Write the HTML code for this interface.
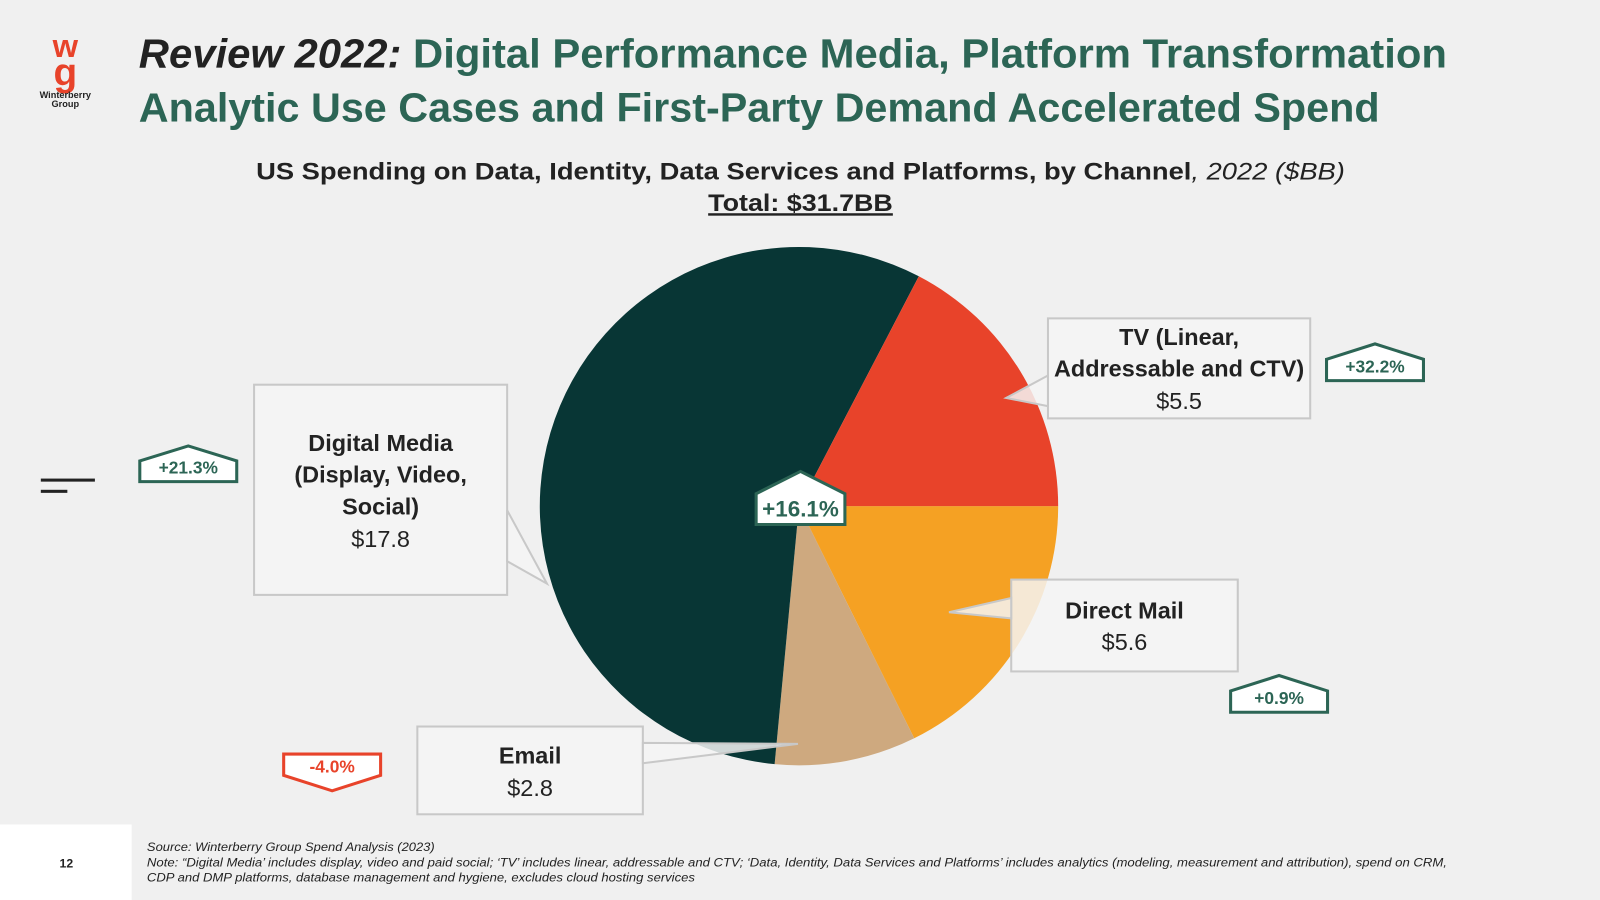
<!DOCTYPE html>
<html><head><meta charset="utf-8">
<style>
html,body{margin:0;padding:0;background:#f0f0f0;}
svg{display:block;font-family:"Liberation Sans",sans-serif;}
</style></head>
<body>
<svg id="chart" width="1600" height="900" viewBox="0 0 1568 882" xmlns="http://www.w3.org/2000/svg">
<rect x="0" y="0" width="1568" height="882" fill="#f0f0f0"/>
<g>
<text x="64" y="56" text-anchor="middle" font-size="32" font-weight="bold" fill="#e8432a">w</text>
<text x="64" y="84" text-anchor="middle" font-size="38" font-weight="bold" fill="#e8432a">g</text>
<text x="64" y="96" text-anchor="middle" font-size="9" font-weight="bold" fill="#222">Winterberry</text>
<text x="64" y="105" text-anchor="middle" font-size="9" font-weight="bold" fill="#222">Group</text>
</g>
<text x="136" y="66" font-size="40" font-weight="bold" fill="#2c6555" textLength="1282" lengthAdjust="spacingAndGlyphs"><tspan font-style="italic" fill="#222">Review 2022:</tspan> Digital Performance Media, Platform Transformation</text>
<text x="136" y="119" font-size="40" font-weight="bold" fill="#2c6555" textLength="1216" lengthAdjust="spacingAndGlyphs">Analytic Use Cases and First-Party Demand Accelerated Spend</text>
<text x="251" y="176" font-size="24" font-weight="bold" fill="#222" textLength="1067" lengthAdjust="spacingAndGlyphs">US Spending on Data, Identity, Data Services and Platforms, by Channel<tspan font-weight="normal" font-style="italic">, 2022 ($BB)</tspan></text>
<text x="694" y="207" font-size="24" font-weight="bold" fill="#222" text-decoration="underline" textLength="181" lengthAdjust="spacingAndGlyphs">Total: $31.7BB</text>
<g id="pie"></g>
<g id="overlay"></g>
<rect x="40" y="469" width="53" height="3" fill="#222"/>
<rect x="40" y="480" width="26" height="3" fill="#222"/>
<rect x="0" y="808" width="129" height="74" fill="#ffffff"/>
<text x="65" y="850" text-anchor="middle" font-size="12" font-weight="bold" fill="#222">12</text>
<g font-size="11.5" font-style="italic" fill="#222">
<text x="144" y="834" textLength="282" lengthAdjust="spacingAndGlyphs">Source: Winterberry Group Spend Analysis (2023)</text>
<text x="144" y="849" textLength="1274" lengthAdjust="spacingAndGlyphs">Note: “Digital Media’ includes display, video and paid social; ‘TV’ includes linear, addressable and CTV; ‘Data, Identity, Data Services and Platforms’ includes analytics (modeling, measurement and attribution), spend on CRM,</text>
<text x="144" y="864" textLength="537" lengthAdjust="spacingAndGlyphs">CDP and DMP platforms, database management and hygiene, excludes cloud hosting services</text>
</g>
</svg>
<script>
const categories = ["Direct Mail", "Email", "Digital Media", "TV"];
const values = [5.6, 2.8, 17.8, 5.5];
const colors = ["#f5a123", "#cea97f", "#083635", "#e8432a"];
const growthLabels = ["+0.9%", "-4.0%", "+21.3%", "+32.2%"];
const NS = "http://www.w3.org/2000/svg";
const cx = 783, cy = 496, r = 254;
const total = values.reduce((a, b) => a + b, 0);
function angleOf(v) { return v / total * Math.PI * 2; }
function pt(a, rad) { return [cx + rad * Math.cos(a), cy + rad * Math.sin(a)]; }
const pie = document.getElementById('pie');
let a0 = 0;
values.forEach((v, i) => {
  const a1 = a0 + angleOf(v);
  const p0 = pt(a0, r), p1 = pt(a1, r);
  const large = (a1 - a0) > Math.PI ? 1 : 0;
  const path = document.createElementNS(NS, 'path');
  path.setAttribute('d', `M${cx},${cy} L${p0[0]},${p0[1]} A${r},${r} 0 ${large} 1 ${p1[0]},${p1[1]} Z`);
  path.setAttribute('fill', colors[i]);
  
  
  pie.appendChild(path);
  a0 = a1;
});
const ov = document.getElementById('overlay');
function callout(name, box, tip, lines) {
  const [x, y, w, h] = box;
  const g = document.createElementNS(NS, 'g');
  
  
  const rect = document.createElementNS(NS, 'rect');
  rect.setAttribute('x', x); rect.setAttribute('y', y); rect.setAttribute('width', w); rect.setAttribute('height', h);
  rect.setAttribute('fill', 'rgba(245,245,245,0.85)'); rect.setAttribute('stroke', '#c8c8c8'); rect.setAttribute('stroke-width', '2');
  g.appendChild(rect);
  const p = document.createElementNS(NS, 'polygon');
  p.setAttribute('points', tip);
  p.setAttribute('fill', 'rgba(245,245,245,0.85)'); p.setAttribute('stroke', '#c8c8c8'); p.setAttribute('stroke-width', '2');
  g.appendChild(p);
  lines.forEach(l => {
    const t = document.createElementNS(NS, 'text');
    t.setAttribute('x', x + w / 2); t.setAttribute('y', l[0]);
    t.setAttribute('text-anchor', 'middle'); t.setAttribute('font-size', '23');
    t.setAttribute('fill', '#222');
    if (l[2]) t.setAttribute('font-weight', 'bold');
    t.textContent = l[1];
    g.appendChild(t);
  });
  ov.appendChild(g);
}
callout('callout-tv', [1027, 312, 257, 98], '1027,368 986,390 1027,398', [[338, 'TV (Linear,', 1], [369, 'Addressable and CTV)', 1], [401, '$' + values[3].toFixed(1)]]);
callout('callout-digital-media', [249, 377, 248, 206], '497,500 536,572 497,550', [[442, 'Digital Media', 1], [473, '(Display, Video,', 1], [504, 'Social)', 1], [536, '$' + values[2].toFixed(1)]]);
callout('callout-direct-mail', [991, 568, 222, 90], '991,586 930,600 991,606', [[606, 'Direct Mail', 1], [637, '$' + values[0].toFixed(1)]]);
callout('callout-email', [409, 712, 221, 86], '630,728 782,729 630,748', [[748, 'Email', 1], [780, '$' + values[1].toFixed(1)]]);
function badge(name, x, y, w, h, label, down, color, fs) {
  const g = document.createElementNS(NS, 'g');
  
  
  const p = document.createElementNS(NS, 'polygon');
  const roof = h * 0.42;
  let pts;
  if (!down) pts = `${x},${y + roof} ${x + w / 2},${y} ${x + w},${y + roof} ${x + w},${y + h} ${x},${y + h}`;
  else pts = `${x},${y} ${x + w},${y} ${x + w},${y + h - roof} ${x + w / 2},${y + h} ${x},${y + h - roof}`;
  p.setAttribute('points', pts);
  p.setAttribute('fill', '#fff'); p.setAttribute('stroke', color); p.setAttribute('stroke-width', '3');
  g.appendChild(p);
  const t = document.createElementNS(NS, 'text');
  t.setAttribute('x', x + w / 2); t.setAttribute('y', down ? y + h * 0.5 : y + h - 8);
  t.setAttribute('text-anchor', 'middle'); t.setAttribute('font-size', fs);
  t.setAttribute('font-weight', 'bold'); t.setAttribute('fill', color);
  t.textContent = label;
  g.appendChild(t);
  ov.appendChild(g);
}
badge('growth-badge-digital-media', 137, 437, 95, 35, growthLabels[2], false, '#2c6555', 17);
badge('growth-badge-tv', 1300, 337, 95, 36, growthLabels[3], false, '#2c6555', 17);
badge('growth-badge-direct-mail', 1206, 662, 95, 36, growthLabels[0], false, '#2c6555', 17);
badge('growth-badge-email', 278, 739, 95, 36, growthLabels[1], true, '#e8432a', 17);
badge('growth-badge-total', 741, 462, 87, 52, '+16.1%', false, '#2c6555', 22);
</script>
</body></html>
